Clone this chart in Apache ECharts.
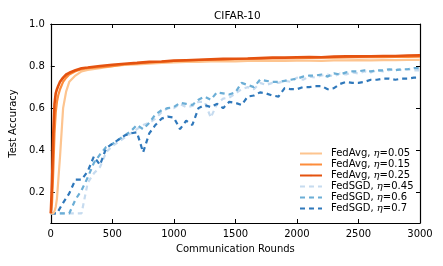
<!DOCTYPE html>
<html><head><meta charset="utf-8">
<script src="https://cdn.jsdelivr.net/npm/echarts@6/dist/echarts.min.js"></script>
<style>html,body{margin:0;padding:0;background:#fff}#c{width:443px;height:266px}</style>
</head><body><div id="c"></div>
<script>
const titleText = 'CIFAR-10';
const xTicks = [0, 500, 1000, 1500, 2000, 2500, 3000];
const yTicks = [0.2, 0.4, 0.6, 0.8, 1.0];
const seriesNames = ['FedAvg, η=0.05','FedAvg, η=0.15','FedAvg, η=0.25','FedSGD, η=0.45','FedSGD, η=0.6','FedSGD, η=0.7'];

const avgRounds = [0,10,20,30,40,50,60,75,100,125,150,200,250,300,400,500,600,700,800,900,1000,1100,1200,1300,1400,1500,1600,1700,1800,1900,2000,2100,2200,2300,2400,2500,2600,2700,2800,2900,3000];
const avgLr005 = [0.10,0.10,0.10,0.11,0.13,0.17,0.25,0.37,0.60,0.68,0.725,0.755,0.775,0.782,0.79,0.80,0.805,0.808,0.812,0.815,0.818,0.82,0.82,0.822,0.823,0.822,0.824,0.824,0.825,0.824,0.826,0.826,0.825,0.827,0.827,0.828,0.827,0.828,0.828,0.829,0.829];
const avgLr015 = [0.10,0.15,0.30,0.48,0.58,0.63,0.66,0.69,0.725,0.745,0.76,0.775,0.785,0.79,0.795,0.80,0.808,0.813,0.818,0.82,0.824,0.826,0.828,0.83,0.831,0.833,0.834,0.835,0.836,0.837,0.838,0.839,0.84,0.84,0.841,0.842,0.842,0.843,0.844,0.844,0.845];
const avgLr025 = [0.10,0.25,0.48,0.62,0.67,0.69,0.705,0.725,0.745,0.76,0.768,0.78,0.79,0.793,0.80,0.806,0.811,0.815,0.82,0.822,0.826,0.828,0.83,0.832,0.834,0.835,0.836,0.838,0.84,0.84,0.842,0.843,0.842,0.845,0.846,0.846,0.847,0.848,0.848,0.85,0.851];

const sgdRounds = [0,50,100,150,200,250,300,350,400,450,500,550,600,650,700,750,800,850,900,950,1000,1050,1100,1150,1200,1250,1300,1350,1400,1450,1500,1550,1600,1650,1700,1750,1800,1850,1900,1950,2000,2050,2100,2150,2200,2250,2300,2350,2400,2450,2500,2550,2600,2650,2700,2750,2800,2850,2900,2950,3000];
const sgdLr045 = [0.10,0.10,0.10,0.10,0.10,0.10,0.245,0.29,0.32,0.39,0.42,0.44,0.46,0.48,0.50,0.52,0.53,0.55,0.58,0.60,0.60,0.62,0.605,0.61,0.63,0.63,0.555,0.62,0.645,0.65,0.67,0.69,0.70,0.69,0.72,0.71,0.72,0.72,0.73,0.725,0.745,0.735,0.75,0.745,0.755,0.76,0.75,0.765,0.76,0.77,0.765,0.775,0.77,0.78,0.775,0.78,0.785,0.78,0.785,0.78,0.78];
const sgdLr06 = [0.10,0.10,0.10,0.10,0.165,0.21,0.27,0.34,0.38,0.415,0.43,0.45,0.47,0.49,0.52,0.50,0.53,0.57,0.59,0.60,0.605,0.625,0.62,0.615,0.64,0.655,0.64,0.675,0.67,0.665,0.675,0.72,0.71,0.70,0.735,0.73,0.725,0.725,0.73,0.735,0.74,0.75,0.755,0.755,0.76,0.75,0.765,0.76,0.77,0.775,0.775,0.78,0.775,0.78,0.78,0.785,0.78,0.785,0.785,0.79,0.79];
const sgdLr07 = [0.10,0.10,0.15,0.195,0.26,0.26,0.30,0.37,0.33,0.41,0.43,0.45,0.47,0.48,0.485,0.39,0.48,0.52,0.55,0.56,0.555,0.50,0.54,0.52,0.60,0.615,0.605,0.62,0.60,0.63,0.625,0.615,0.655,0.66,0.675,0.67,0.66,0.655,0.695,0.69,0.69,0.70,0.70,0.705,0.705,0.69,0.695,0.715,0.725,0.72,0.72,0.725,0.735,0.735,0.74,0.74,0.735,0.74,0.74,0.745,0.745];

const colors = ['#fdc48f','#fd8c3b','#e4520f','#c6dbef','#6baed6','#2f78bb'];
const pair = (xs, ys) => xs.map((x, i) => [x, ys[i]]);
const seriesData = [pair(avgRounds,avgLr005),pair(avgRounds,avgLr015),pair(avgRounds,avgLr025),pair(sgdRounds,sgdLr045),pair(sgdRounds,sgdLr06),pair(sgdRounds,sgdLr07)];
const widths = [2.2,2.2,2.6,2.2,2.2,2.2];

const font = 'DejaVu Sans';
const chart = echarts.init(document.getElementById('c'), null, {renderer:'canvas'});
const mkSeries = (i) => ({
  type:'line', name: seriesNames[i], data: seriesData[i], showSymbol:false, symbol:'none',
  xAxisIndex:0, yAxisIndex:0, z: i < 3 ? 3 + i : 1 + (i-3)*0.1,
  lineStyle:{color:colors[i], width:widths[i], type: i < 3 ? 'solid' : [5,4], cap:'butt'},
  itemStyle:{color:colors[i]}, emphasis:{disabled:true}, animation:false
});
const order = [3,4,5,0,1,2];
const series = order.map(mkSeries);
const legendFmt = (name) => {
  const m = name.split('η');
  return m[0] + '{i|η}' + m[1];
};
chart.setOption({
  animation:false,
  title:{text:titleText, left:209, top:6, textStyle:{fontFamily:font, fontSize:10.5, fontWeight:'normal', color:'#000'}},
  grid:{left:47, right:23, top:24, bottom:43, containLabel:false},
  legend:{
    data: seriesNames.map((n,i)=>({name:n})), orient:'vertical', left:299, top:148, itemWidth:22, itemHeight:2, itemGap:0,
    textStyle:{fontFamily:font, fontSize:10, color:'#000', lineHeight:11, padding:[0,0,0,4],
      rich:{i:{fontFamily:'DejaVu Serif', fontStyle:'italic', fontSize:10, lineHeight:11}}},
    formatter: legendFmt, selectedMode:false, padding:0
  },
  xAxis:[
    {type:'value', min:0, max:3000, interval:500, position:'bottom',
     name:'Communication Rounds', nameLocation:'middle', nameGap:21,
     nameTextStyle:{fontFamily:font, fontSize:10, color:'#000'},
     axisLine:{show:true, onZero:false, lineStyle:{color:'#000', width:1.2}},
     axisTick:{show:true, inside:true, length:4, customValues:xTicks, lineStyle:{color:'#000'}},
     axisLabel:{fontFamily:font, fontSize:10, color:'#000', margin:6, customValues:xTicks, formatter:(v)=>String(v)},
     splitLine:{show:false}},
    {type:'value', min:0, max:3000, interval:500, position:'top',
     axisLine:{show:true, onZero:false, lineStyle:{color:'#000', width:1.2}},
     axisTick:{show:true, inside:true, length:4, customValues:xTicks, lineStyle:{color:'#000'}},
     axisLabel:{show:false}, splitLine:{show:false}}
  ],
  yAxis:[
    {type:'value', min:0.054, max:1.0, position:'left',
     name:'Test Accuracy', nameLocation:'middle', nameGap:31, nameRotate:90,
     nameTextStyle:{fontFamily:font, fontSize:10, color:'#000'},
     axisLine:{show:true, onZero:false, lineStyle:{color:'#000', width:1.2}},
     axisTick:{show:true, inside:true, length:4, customValues:yTicks, lineStyle:{color:'#000'}},
     axisLabel:{fontFamily:font, fontSize:10, color:'#000', margin:6, customValues:yTicks, formatter:(v)=>v.toFixed(1)},
     splitLine:{show:false}},
    {type:'value', min:0.054, max:1.0, position:'right',
     axisLine:{show:true, onZero:false, lineStyle:{color:'#000', width:1.2}},
     axisTick:{show:true, inside:true, length:4, customValues:yTicks, lineStyle:{color:'#000'}},
     axisLabel:{show:false}, splitLine:{show:false}}
  ],
  series: series
});
</script></body></html>
